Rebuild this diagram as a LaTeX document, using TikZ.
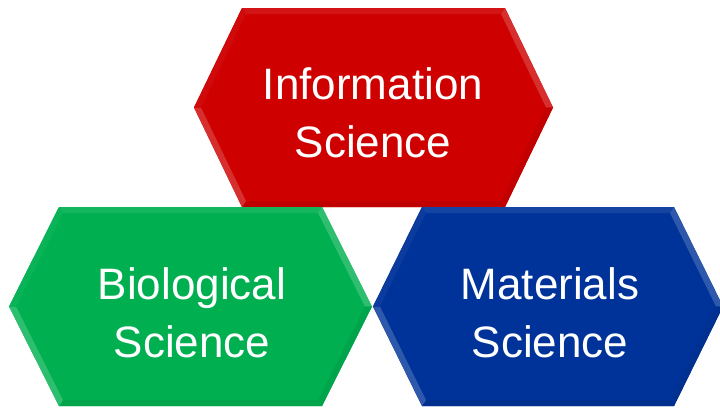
\documentclass[tikz,border=0pt]{standalone}
\usepackage{fontspec}
\setmainfont{Liberation Sans}
\definecolor{infored}{RGB}{206,0,0}
\definecolor{biogreen}{RGB}{0,176,80}
\definecolor{matblue}{RGB}{0,51,153}
\tikzset{
  label/.style={text=white,align=center,inner sep=0pt,font=\fontsize{44}{58}\selectfont}
}
% #1 name, #2 L, #3 R, #4 top, #5 bottom, #6 slant width, #7 colour
\newcommand{\bevhex}[7]{%
  \pgfmathsetmacro{\hm}{(#4+#5)/2}
  \coordinate (#1o1) at (#2,\hm);
  \coordinate (#1o2) at (#2+#6,#4);
  \coordinate (#1o3) at (#3-#6,#4);
  \coordinate (#1o4) at (#3,\hm);
  \coordinate (#1o5) at (#3-#6,#5);
  \coordinate (#1o6) at (#2+#6,#5);
  \coordinate (#1i1) at (#2+7,\hm);
  \coordinate (#1i2) at (#2+#6+4,#4+6);
  \coordinate (#1i3) at (#3-#6-4,#4+6);
  \coordinate (#1i4) at (#3-7,\hm);
  \coordinate (#1i5) at (#3-#6-4,#5-6);
  \coordinate (#1i6) at (#2+#6+4,#5-6);
  \fill[#7] (#1o1)--(#1o2)--(#1o3)--(#1o4)--(#1o5)--(#1o6)--cycle;
  \fill[#7!92!white] (#1o2)--(#1o3)--(#1i3)--(#1i2)--cycle;
  \fill[#7!82!white] (#1o3)--(#1o4)--(#1i4)--(#1i3)--cycle;
  \fill[#7!94!black] (#1o4)--(#1o5)--(#1i5)--(#1i4)--cycle;
  \fill[#7!93!black] (#1o5)--(#1o6)--(#1i6)--(#1i5)--cycle;
  \fill[#7!82!white] (#1o6)--(#1o1)--(#1i1)--(#1i6)--cycle;
  \fill[#7!96!white] (#1o1)--(#1o2)--(#1i2)--(#1i1)--cycle;
}
\begin{document}
\begin{tikzpicture}[x=1pt,y=-1pt]
\useasboundingbox (0,0) rectangle (720,408);
\clip (0,0) rectangle (720,408);
\bevhex{r}{194}{553}{8}{207}{48}{infored}
\bevhex{g}{9}{372}{207}{406}{50}{biogreen}
\bevhex{b}{373}{723}{207}{406}{49}{matblue}
\node[label] (info) at (373,113) {Information\\Science};
\node[label] (bio) at (192,313) {Biological\\Science};
\node[label] (mat) at (550,313) {Materials\\Science};
\end{tikzpicture}
\end{document}
